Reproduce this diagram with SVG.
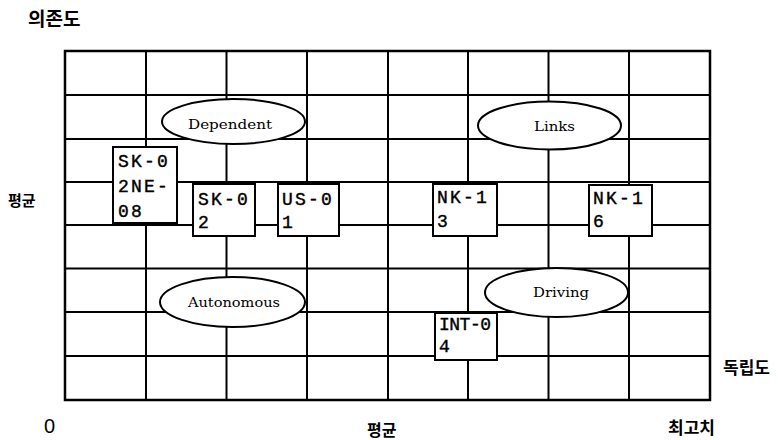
<svg xmlns="http://www.w3.org/2000/svg" width="778" height="440" viewBox="0 0 778 440">
<style>
.grid line{stroke:#000;stroke-width:2}
.frame{fill:none;stroke:#000;stroke-width:2.5}
.ell{fill:#fff;stroke:#000;stroke-width:2}
.box{fill:#fff;stroke:#000;stroke-width:2}
.et{font-family:"DejaVu Serif","Liberation Serif",serif;font-size:13px;fill:#000;text-anchor:middle}
.bt{font-family:"Liberation Mono","DejaVu Sans Mono",monospace;font-size:18px;fill:#000;stroke:#000;stroke-width:0.4;letter-spacing:2.2px}
.ko{font-family:"Noto Sans CJK KR","Noto Sans",sans-serif;font-weight:bold;fill:#000}
.num{font-family:"Liberation Sans","DejaVu Sans",sans-serif;fill:#000}
</style>
<rect width="778" height="440" fill="#fff"/>
<g id="grid" class="grid">
<line x1="146" y1="51" x2="146" y2="400"/>
<line x1="226.5" y1="51" x2="226.5" y2="400"/>
<line x1="307" y1="51" x2="307" y2="400"/>
<line x1="388" y1="51" x2="388" y2="400"/>
<line x1="468" y1="51" x2="468" y2="400"/>
<line x1="548.5" y1="51" x2="548.5" y2="400"/>
<line x1="629" y1="51" x2="629" y2="400"/>
<line x1="65" y1="95" x2="710" y2="95"/>
<line x1="65" y1="139" x2="710" y2="139"/>
<line x1="65" y1="182" x2="710" y2="182"/>
<line x1="65" y1="225" x2="710" y2="225"/>
<line x1="65" y1="268.5" x2="710" y2="268.5"/>
<line x1="65" y1="312" x2="710" y2="312"/>
<line x1="65" y1="356" x2="710" y2="356"/>
<rect class="frame" x="65" y="51" width="645" height="349"/>
</g>
<g id="dependent"><ellipse class="ell" cx="233.5" cy="121.5" rx="71.5" ry="22.5"/><text class="et" x="230" y="129" textLength="84" lengthAdjust="spacingAndGlyphs">Dependent</text></g>
<g id="links"><ellipse class="ell" cx="549.5" cy="125.5" rx="71.5" ry="24"/><text class="et" x="554.5" y="131" textLength="41" lengthAdjust="spacingAndGlyphs">Links</text></g>
<g id="autonomous"><ellipse class="ell" cx="232.5" cy="302" rx="72.5" ry="25"/><text class="et" x="234" y="307" textLength="92" lengthAdjust="spacingAndGlyphs">Autonomous</text></g>
<g id="driving"><ellipse class="ell" cx="556.5" cy="292.5" rx="71.5" ry="24.5"/><text class="et" x="561" y="297" textLength="56" lengthAdjust="spacingAndGlyphs">Driving</text></g>
<g id="sk02ne08"><rect class="box" x="113" y="147" width="64" height="76"/><text class="bt" x="118" y="167">SK-0</text><text class="bt" x="118" y="192">2NE-</text><text class="bt" x="118" y="217">08</text></g>
<g id="sk02"><rect class="box" x="193" y="184" width="62" height="52"/><text class="bt" x="198" y="205">SK-0</text><text class="bt" x="198" y="228">2</text></g>
<g id="us01"><rect class="box" x="278" y="184" width="61" height="52"/><text class="bt" x="282" y="205">US-0</text><text class="bt" x="282" y="228">1</text></g>
<g id="nk13"><rect class="box" x="433" y="184" width="64" height="52"/><text class="bt" x="437" y="203">NK-1</text><text class="bt" x="437" y="227">3</text></g>
<g id="nk16"><rect class="box" x="589" y="185" width="63" height="51"/><text class="bt" x="593" y="204">NK-1</text><text class="bt" x="593" y="227">6</text></g>
<g id="int04"><rect class="box" x="435" y="313" width="62" height="47"/><text class="bt" x="439" y="330" style="letter-spacing:-0.5px">INT-0</text><text class="bt" x="439" y="352">4</text></g>
<g id="labels">
<text class="ko" x="28" y="26" font-size="19">의존도</text>
<text class="ko" x="8" y="206" font-size="15">평균</text>
<text class="num" x="44" y="433" font-size="20">0</text>
<text class="ko" x="367" y="436" font-size="16">평균</text>
<text class="ko" x="668" y="434" font-size="17">최고치</text>
<text class="ko" x="723" y="374" font-size="17">독립도</text>
</g>
</svg>
